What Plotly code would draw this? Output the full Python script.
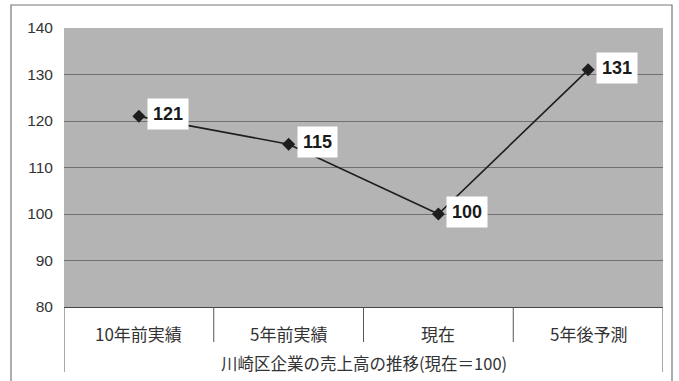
import plotly.graph_objects as go

# Sales index of Kawasaki-ku companies (present = 100)
categories = ["10年前実績", "5年前実績", "現在", "5年後予測"]
values = [121, 115, 100, 131]
y_ticks = [80, 90, 100, 110, 120, 130, 140]
caption = "川崎区企業の売上高の推移(現在＝100)"

W, H = 679, 381
L, R, T, B = 64, 16, 28, 74
plot_h = H - T - B
x_idx = list(range(len(categories)))

JP_FONT = "Noto Sans CJK JP"
NUM_FONT = "Liberation Sans"

fig = go.Figure()
fig.add_trace(go.Scatter(
    x=x_idx, y=values, mode="lines+markers",
    line=dict(color="#1e1e1e", width=1.6),
    marker=dict(symbol="diamond", size=10, color="#1e1e1e"),
    hoverinfo="skip", showlegend=False,
))

# value labels in white boxes to the right of each marker
for i, v in zip(x_idx, values):
    fig.add_annotation(
        x=i, y=v, xref="x", yref="y", text=f"<b>{v}</b>",
        showarrow=False, xshift=29, yshift=2,
        font=dict(family=NUM_FONT, size=18, color="#1a1a1a"),
        bgcolor="white", borderpad=5,
    )

# category labels below the plot
for i, c in zip(x_idx, categories):
    fig.add_annotation(
        x=i, y=-26 / plot_h, xref="x", yref="paper", text=c,
        showarrow=False, yanchor="middle",
        font=dict(family=JP_FONT, size=17, color="#333333"),
    )

# caption line
fig.add_annotation(
    x=0.5, y=-56 / plot_h, xref="paper", yref="paper", text=caption,
    showarrow=False, yanchor="middle",
    font=dict(family=JP_FONT, size=16.5, color="#333333"),
)

shapes = []
# separators between category cells
for xs in [0.5, 1.5, 2.5]:
    shapes.append(dict(type="line", xref="x", yref="paper", x0=xs, x1=xs,
                       y0=0, y1=-35 / plot_h, line=dict(color="#555555", width=1)))
# outer edges of the category table
for xs in [-0.5, 3.5]:
    shapes.append(dict(type="line", xref="x", yref="paper", x0=xs, x1=xs,
                       y0=0, y1=-65 / plot_h, line=dict(color="#555555", width=1)))
# surrounding frame
shapes.append(dict(type="rect", xref="paper", yref="paper",
                   x0=(11 - L) / (W - L - R), x1=(672 - L) / (W - L - R),
                   y0=(T + plot_h - 5) / plot_h, y1=-90 / plot_h,
                   line=dict(color="#777777", width=1.2), fillcolor="rgba(0,0,0,0)",
                   layer="below"))
fig.update_layout(shapes=shapes)

fig.update_xaxes(
    range=[-0.5, 3.5], showticklabels=False, showgrid=False, zeroline=False,
    showline=True, linecolor="#444444", linewidth=1, ticks="",
)
fig.update_yaxes(
    range=[80, 140], tickvals=y_ticks, showgrid=True, gridcolor="#707070",
    gridwidth=1, zeroline=False, showline=False, ticks="",
    ticklabelstandoff=10,
    tickfont=dict(family=NUM_FONT, size=15.5, color="#333333"),
)

fig.update_layout(
    width=W, height=H, margin=dict(l=L, r=R, t=T, b=B),
    paper_bgcolor="white", plot_bgcolor="#b4b4b4",
)

fig.write_html("out.html")
